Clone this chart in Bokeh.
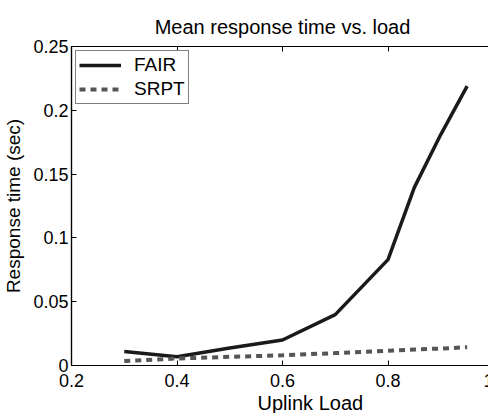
from bokeh.plotting import figure
from bokeh.models import Range1d, FixedTicker, LinearAxis, Legend, LegendItem, Title
from bokeh.embed import file_html
from bokeh.resources import INLINE

# ---- data ----
load = [0.3, 0.4, 0.5, 0.6, 0.7, 0.8, 0.85, 0.9, 0.95]
fair = [0.0110, 0.0069, 0.0137, 0.0200, 0.0399, 0.0830, 0.1396, 0.1810, 0.2190]
srpt = [0.0035, 0.0055, 0.0068, 0.0080, 0.0097, 0.0115, 0.0125, 0.0133, 0.0143]

x_ticks = [0.2, 0.4, 0.6, 0.8, 1.0]
x_tick_labels = ["0.2", "0.4", "0.6", "0.8", "1"]
y_ticks = [0.0, 0.05, 0.1, 0.15, 0.2, 0.25]
y_tick_labels = ["0", "0.05", "0.1", "0.15", "0.2", "0.25"]

title = "Mean response time vs. load"
x_label = "Uplink Load"
y_label = "Response time (sec)"
series_names = ["FAIR", "SRPT"]

FONT = "Liberation Sans"

p = figure(width=493, height=413, output_backend="svg", toolbar_location=None,
           x_range=Range1d(0.2, 1.0), y_range=Range1d(0, 0.25),
           min_border_left=65, min_border_right=0, min_border_top=46, min_border_bottom=0,
           title=title)

p.background_fill_color = "white"
p.border_fill_color = "white"
p.outline_line_color = "black"
p.outline_line_width = 1.2
p.grid.visible = False

p.title.text_font = FONT
p.title.text_font_size = "20px"
p.title.text_font_style = "normal"
p.title.align = "center"
p.title.text_color = "black"
p.title.standoff = 18

def style_axis(ax):
    ax.major_tick_in = 5
    ax.major_tick_out = 0
    ax.minor_tick_in = 0
    ax.minor_tick_out = 0
    ax.axis_line_color = "black"
    ax.axis_line_width = 1.2
    ax.major_tick_line_color = "black"
    ax.major_tick_line_width = 1
    ax.major_label_text_font = FONT
    ax.major_label_text_font_size = "18px"
    ax.major_label_text_color = "black"
    ax.axis_label_text_font = FONT
    ax.axis_label_text_font_size = "19px"
    ax.axis_label_text_font_style = "normal"
    ax.axis_label_text_color = "black"

xa = p.xaxis[0]
ya = p.yaxis[0]
style_axis(xa)
style_axis(ya)
xa.ticker = FixedTicker(ticks=x_ticks)
xa.major_label_overrides = {t: l for t, l in zip(x_ticks, x_tick_labels)}
ya.ticker = FixedTicker(ticks=y_ticks)
ya.major_label_overrides = {t: l for t, l in zip(y_ticks, y_tick_labels)}
ya.axis_label = y_label
xa.major_label_standoff = 8
xa.axis_label_standoff = 0
ya.major_label_standoff = 3
ya.axis_label_standoff = 6

# x-axis label: sits right of centre in the reference -> left-aligned below title with offset
xlab = Title(text=x_label, align="left", offset=186, standoff=0,
             text_font=FONT, text_font_size="20px", text_font_style="normal",
             text_color="black")
p.add_layout(xlab, "below")

# top and right axes: inward ticks only, blank labels
def ticks_only(ax):
    style_axis(ax)
    ax.major_label_overrides = {t: "" for t in ax.ticker.ticks}
    ax.major_label_standoff = 0
    ax.axis_label_standoff = 0
    ax.major_label_text_font_size = "1px"

top_ax = LinearAxis(ticker=FixedTicker(ticks=x_ticks))
ticks_only(top_ax)
p.add_layout(top_ax, "above")

right_ax = LinearAxis(ticker=FixedTicker(ticks=y_ticks))
ticks_only(right_ax)
p.add_layout(right_ax, "right")

r1 = p.line(load, fair, line_color="#1a1a1a", line_width=3.5)
r2 = p.line(load, srpt, line_color="#555555", line_width=4, line_dash="6 5")

legend = Legend(items=[LegendItem(label=series_names[0], renderers=[r1]),
                       LegendItem(label=series_names[1], renderers=[r2])],
                location="top_left")
legend.margin = 4
legend.padding = 3
legend.spacing = 2
legend.glyph_width = 42
legend.glyph_height = 20
legend.label_height = 20
legend.label_standoff = 13
legend.label_text_font = FONT
legend.label_text_font_size = "19px"
legend.label_text_color = "black"
legend.border_line_color = "black"
legend.border_line_width = 1.5
legend.background_fill_alpha = 1.0
p.add_layout(legend)

open("out.html", "w").write(file_html(p, INLINE))
